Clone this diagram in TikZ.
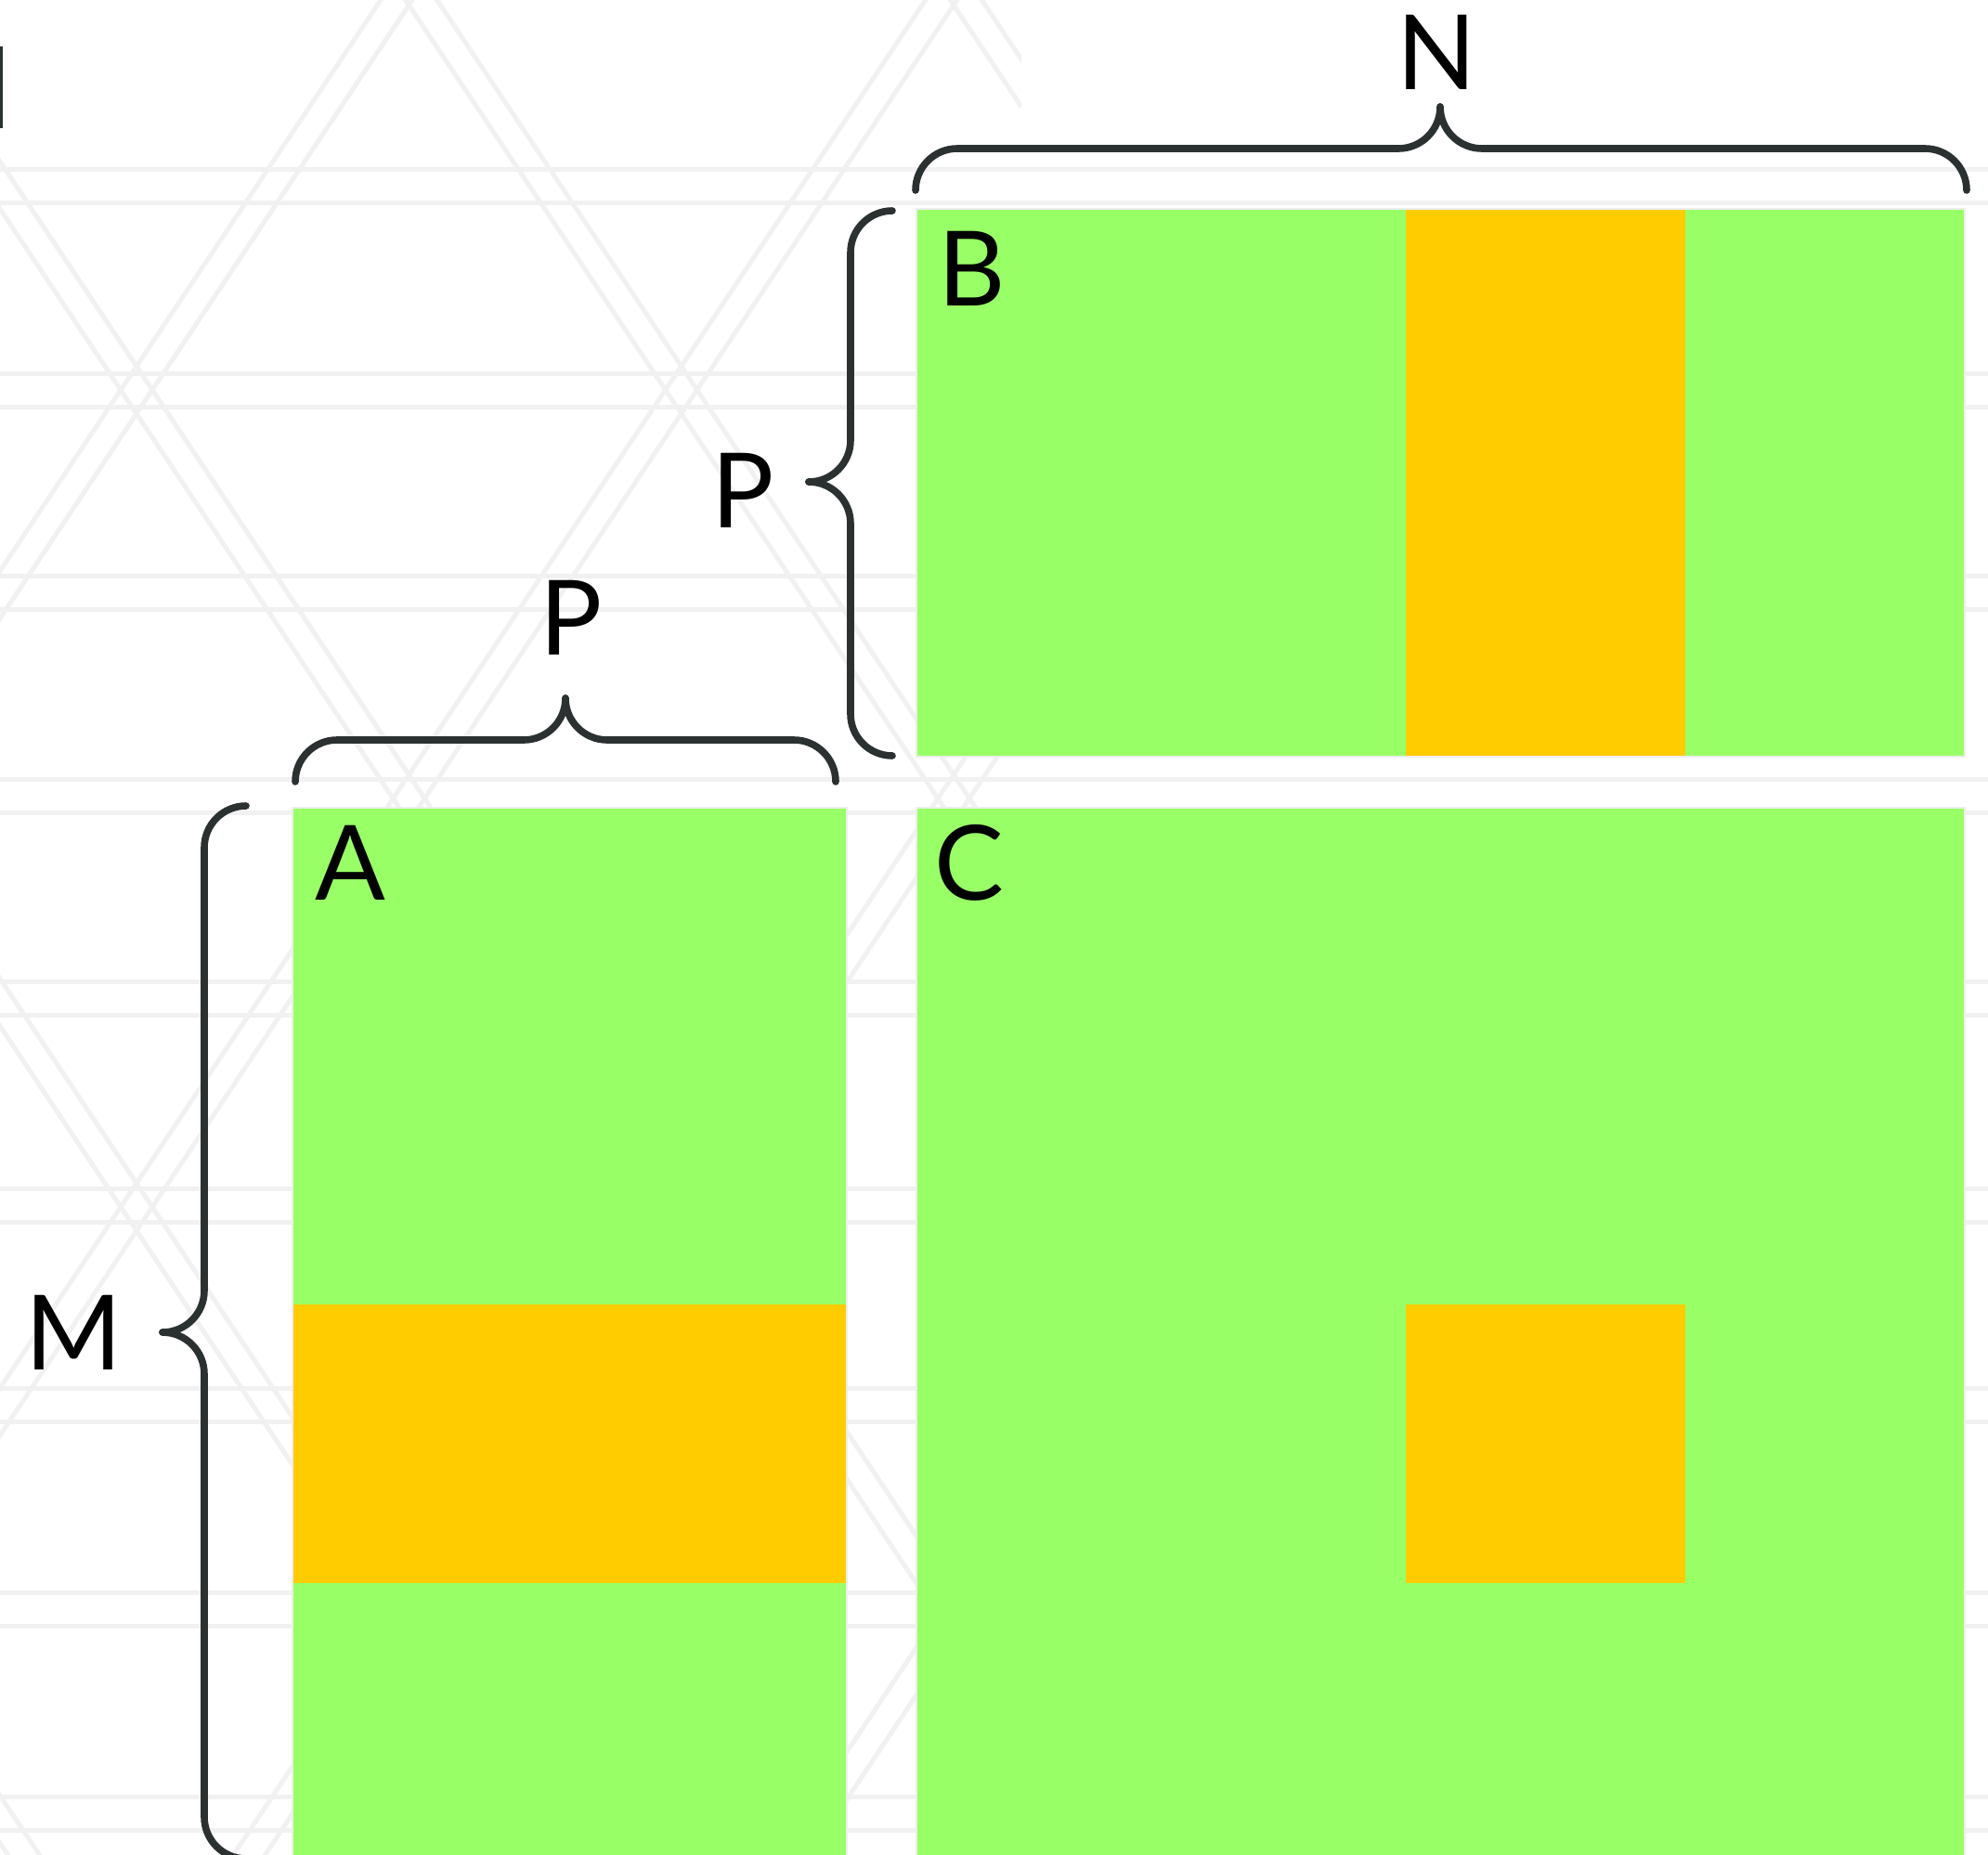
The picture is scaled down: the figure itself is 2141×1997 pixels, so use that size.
\documentclass[tikz,border=0pt]{standalone}
\usepackage{fontspec}
\setmainfont{Lato}
\definecolor{grn}{HTML}{99FF66}
\definecolor{org}{HTML}{FFCC00}
\definecolor{bracecol}{HTML}{2B3131}
\definecolor{bgcol}{HTML}{F1F1F1}
\begin{document}
\begin{tikzpicture}[x=0.5pt,y=-0.5pt,
  lbl/.style={inner sep=0pt, text=black, font=\fontsize{56pt}{60pt}\selectfont},
  brace/.style={draw=bracecol, line width=3.8pt, rounded corners=22.5pt, line cap=round, line join=round},
  bgline/.style={draw=bgcol, line width=2.5pt},
  blockg/.style={fill=grn},
  blocko/.style={fill=org},
  edge/.style={draw=black!7, line width=1pt}]
\useasboundingbox (0,0) rectangle (2141,1997);
\clip (0,0) rectangle (2141,1997);
\fill[white] (0,0) rectangle (2141,1997);
% faint background pattern
\foreach \y in {182,402,620,839,1057,1280,1495,1715,1935} {
  \draw[bgline] (0,\y) -- (2141,\y);
  \draw[bgline] (0,\y+36) -- (2141,\y+36);
}
\begin{scope}
\clip (0,0) rectangle (1100,1997);
\foreach \k in {-2,...,3} {
  \foreach \d in {0,34} {
    \draw[bgline] (-200+\d, 420+\k*880-495) -- (1100+\d, 420+\k*880+1455);
    \draw[bgline] (-200+\d, 420+\k*880+495) -- (1100+\d, 420+\k*880-1455);
  }
}
\end{scope}
% clipped fragment at top-left
\fill[bracecol] (0,50) rectangle (3,138);
% blocks
\fill[blockg] (987,225) rectangle (2116,815);
\fill[blocko] (1514,225) rectangle (1815,815);
\draw[edge] (987,225) rectangle (2116,815);
\fill[blockg] (315,870) rectangle (912,2000);
\fill[blocko] (315,1405) rectangle (912,1705);
\draw[edge] (315,870) rectangle (912,2000);
\fill[blockg] (987,870) rectangle (2116,2000);
\fill[blocko] (1514,1405) rectangle (1815,1705);
\draw[edge] (987,870) rectangle (2116,2000);
% labels
\node[lbl] (labN) at (1547,56) {N};
\node[lbl] (labB) at (1047,289) {B};
\node[lbl] (labA) at (377,929) {A};
\node[lbl] (labC) at (1044,929) {C};
\node[lbl] (labPB) at (800,528) {P};
\node[lbl] (labPA) at (615,665) {P};
\node[lbl] (labM) at (79,1435) {M};
% braces
\draw[brace] (1551,115) -- (1551,160) -- (986,160) -- (986,205);
\draw[brace] (1551,115) -- (1551,160) -- (2118,160) -- (2118,205);
\draw[brace] (871,519) -- (916,519) -- (916,227) -- (961,227);
\draw[brace] (871,519) -- (916,519) -- (916,814) -- (961,814);
\draw[brace] (609,752) -- (609,797) -- (318,797) -- (318,842);
\draw[brace] (609,752) -- (609,797) -- (900,797) -- (900,842);
\draw[brace] (175,1435) -- (220,1435) -- (220,868) -- (265,868);
\draw[brace] (175,1435) -- (220,1435) -- (220,2002) -- (265,2002);
\end{tikzpicture}
\end{document}
